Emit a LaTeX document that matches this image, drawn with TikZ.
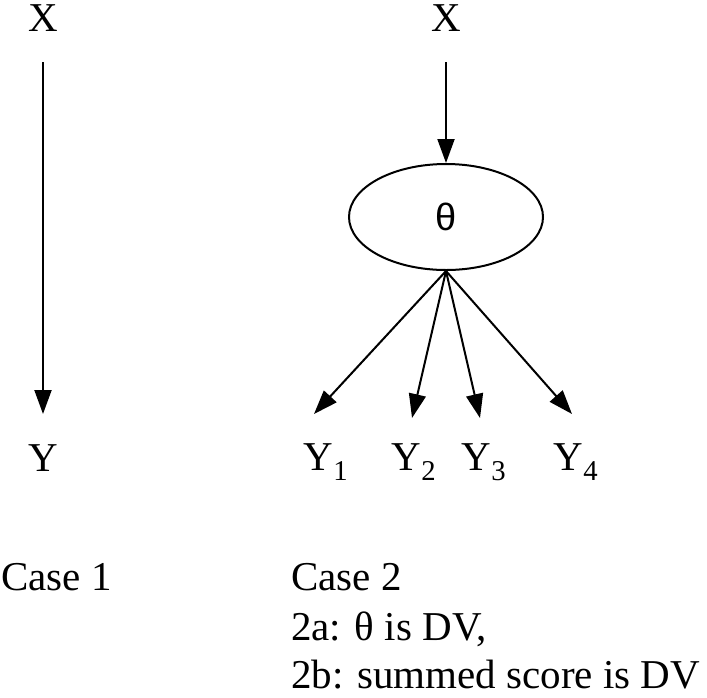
\documentclass[tikz,border=0pt]{standalone}
\usepackage{fontspec}
\setmainfont{Liberation Serif}
\newfontfamily\thetafont{Liberation Sans}
\usetikzlibrary{arrows.meta,shapes.geometric}
\tikzset{
  lbl/.style={inner sep=0pt, font=\fontsize{41}{48}\selectfont},
  txt/.style={lbl, anchor=base west},
  arr/.style={line width=2pt, -{Triangle[length=24pt,width=17pt]}}
}
\begin{document}
\begin{tikzpicture}[x=1pt,y=-1pt]
  \useasboundingbox (0,0) rectangle (707,697);
  % case 1
  \node[lbl] (x1) at (43,18) {X};
  \node[lbl] (y0) at (43,458) {Y};
  \draw[arr] (43,62) -- (43,414);
  % case 2
  \node[lbl] (x2) at (446,18) {X};
  \node[draw, line width=2pt, ellipse, inner sep=0pt, minimum width=194pt, minimum height=106pt, font=\fontsize{38}{44}\thetafont] (th) at (446,217) {θ};
  \draw[arr] (446,62) -- (th.north);
  \node[lbl] (y1) at (326,462) {Y\textsubscript{1}};
  \node[lbl] (y2) at (414,462) {Y\textsubscript{2}};
  \node[lbl] (y3) at (484,462) {Y\textsubscript{3}};
  \node[lbl] (y4) at (576,462) {Y\textsubscript{4}};
  \coordinate (c1) at (314,414);
  \coordinate (c2) at (412,418);
  \coordinate (c3) at (480,418);
  \coordinate (c4) at (572,414);
  \foreach \c in {c1,c2,c3,c4}
    \draw[arr] (th.south) -- (\c);
  % captions
  \node[txt] (k1) at (1,590) {Case 1};
  \node[txt] (k2) at (291,590) {Case 2};
  \node[txt] (k3) at (291,640) {2a: θ is DV,};
  \node[txt] (k4) at (291,688) {2b: summed score is DV};
\end{tikzpicture}
\end{document}
